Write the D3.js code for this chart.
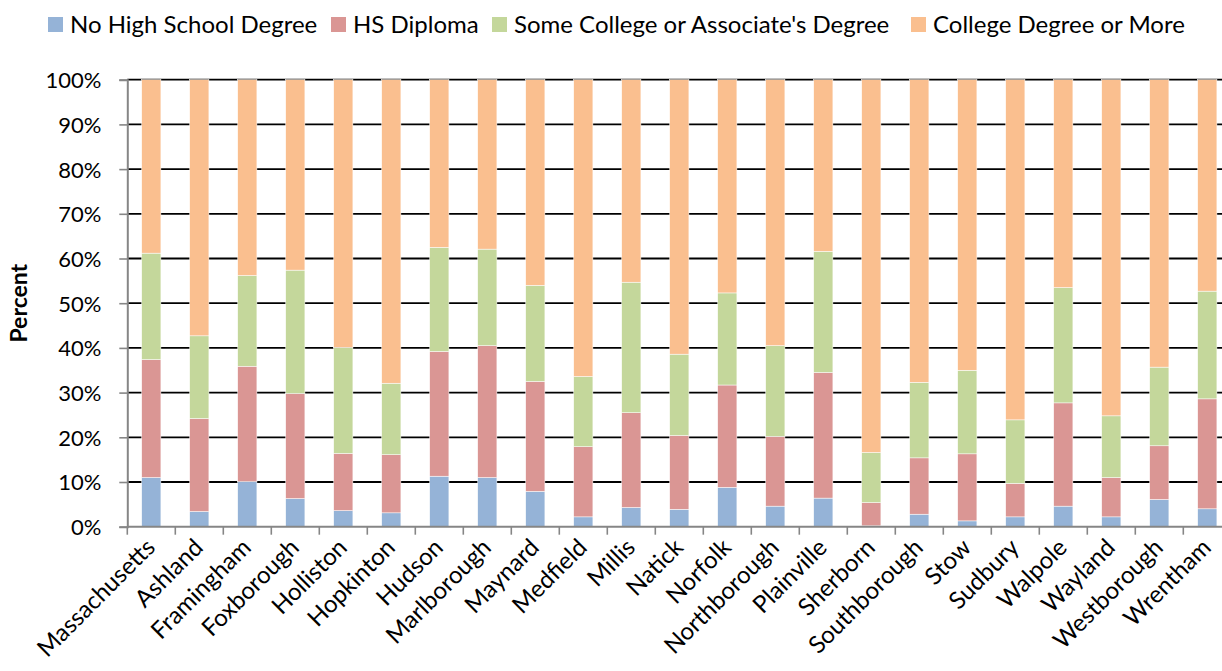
<!DOCTYPE html>
<html>
<head>
<meta charset="utf-8">
<script src="https://cdn.jsdelivr.net/npm/d3@7"></script>
<style>
  body { margin: 0; background: #fff; }
  text { font-family: Lato, "Open Sans", sans-serif; fill: #000; }
</style>
</head>
<body>
<div class="chart"></div>
<script>
//towns on the x axis
var towns = ["Massachusetts", "Ashland", "Framingham", "Foxborough", "Holliston", "Hopkinton",
  "Hudson", "Marlborough", "Maynard", "Medfield", "Millis", "Natick", "Norfolk", "Northborough",
  "Plainville", "Sherborn", "Southborough", "Stow", "Sudbury", "Walpole", "Wayland",
  "Westborough", "Wrentham"];

//series names for the legend
var seriesNames = ["No High School Degree", "HS Diploma", "Some College or Associate's Degree", "College Degree or More"];
var seriesColors = ["#95b3d7", "#da9694", "#c4d79b", "#fabf8f"];

//percent of each group per town
var noHighSchool = [11.0, 3.4, 10.1, 6.3, 3.6, 3.1, 11.3, 11.0, 7.9, 2.2, 4.3, 3.9, 8.8, 4.6, 6.4, 0.2, 2.8, 1.3, 2.2, 4.6, 2.2, 6.1, 4.0];
var hsDiploma = [26.4, 20.8, 25.8, 23.5, 12.8, 13.0, 27.9, 29.5, 24.6, 15.7, 21.2, 16.5, 22.9, 15.6, 28.1, 5.2, 12.6, 15.0, 7.5, 23.1, 8.8, 12.0, 24.6];
var someCollege = [23.8, 18.5, 20.3, 27.6, 23.7, 16.0, 23.3, 21.6, 21.5, 15.7, 29.2, 18.2, 20.6, 20.3, 27.1, 11.2, 16.9, 18.7, 14.2, 25.8, 13.8, 17.6, 24.1];
var collegeMore = [38.8, 57.3, 43.8, 42.6, 59.9, 67.9, 37.5, 37.9, 46.0, 66.4, 45.3, 61.4, 47.7, 59.5, 38.4, 83.4, 67.7, 65.0, 76.1, 46.5, 75.2, 64.3, 47.3];

//y axis ticks
var yTicks = [0, 10, 20, 30, 40, 50, 60, 70, 80, 90, 100];

const w = 1222;
const h = 671;
const plotLeft = 127.3;
const plotRight = 1231.3;
const plotTop = 79.7;
const plotBottom = 526.7;

//build rows for the stack
var rows = towns.map(function (t, i) {
  return { town: t, s0: noHighSchool[i], s1: hsDiploma[i], s2: someCollege[i], s3: collegeMore[i] };
});
var stack = d3.stack().keys(["s0", "s1", "s2", "s3"]);
var layers = stack(rows);

const xScale = d3.scaleBand()
  .domain(towns)
  .range([plotLeft, plotRight])
  .paddingInner(0.6)
  .paddingOuter(0.3);

const yScale = d3.scaleLinear()
  .domain([0, 100])
  .range([plotBottom, plotTop]);

const svg = d3.select(".chart")
  .append("svg")
  .attr("width", w)
  .attr("height", h);

//gridlines
svg.append("g")
  .selectAll("line")
  .data(yTicks.slice(1))
  .enter()
  .append("line")
  .attr("x1", plotLeft)
  .attr("x2", plotRight)
  .attr("y1", (d) => yScale(d))
  .attr("y2", (d) => yScale(d))
  .attr("stroke", "#000")
  .attr("stroke-width", 1.8);

//bars
svg.append("g")
  .selectAll("g")
  .data(layers)
  .enter()
  .append("g")
  .attr("fill", (d, i) => seriesColors[i])
  .selectAll("rect")
  .data((d) => d)
  .enter()
  .append("rect")
  .attr("x", (d) => xScale(d.data.town))
  .attr("width", xScale.bandwidth())
  .attr("y", (d) => yScale(d[1]))
  .attr("height", (d) => yScale(d[0]) - yScale(d[1]))
  .attr("stroke", "#fff")
  .attr("stroke-width", 0.5);

//y axis
const yAxis = d3.axisLeft(yScale)
  .tickValues(yTicks)
  .tickSize(8)
  .tickPadding(18)
  .tickFormat((d) => d + "%");
const gy = svg.append("g")
  .attr("transform", "translate(" + plotLeft + ",0)")
  .call(yAxis);
gy.select(".domain").attr("stroke", "#868686").attr("stroke-width", 2);
gy.selectAll(".tick line").attr("stroke", "#868686").attr("stroke-width", 1.6);
gy.selectAll(".tick text").style("font-size", "22px").style("font-family", "Lato").attr("dy", "0.36em");

//x axis line and ticks at category edges
svg.append("line")
  .attr("x1", plotLeft).attr("x2", plotRight)
  .attr("y1", plotBottom).attr("y2", plotBottom)
  .attr("stroke", "#868686").attr("stroke-width", 2);
svg.append("g")
  .selectAll("line")
  .data(towns)
  .enter()
  .append("line")
  .attr("x1", (d) => xScale(d) - xScale.step() * 0.3)
  .attr("x2", (d) => xScale(d) - xScale.step() * 0.3)
  .attr("y1", plotBottom)
  .attr("y2", plotBottom + 8)
  .attr("stroke", "#868686")
  .attr("stroke-width", 1.6);

//x labels rotated
svg.append("g")
  .selectAll("text")
  .data(towns)
  .enter()
  .append("text")
  .attr("text-anchor", "end")
  .attr("transform", (d) => "translate(" + (xScale(d) + xScale.bandwidth() / 2 - 7) + "," + (plotBottom + 10) + ") rotate(-45)")
  .attr("dy", "0.72em")
  .style("font-size", "24px")
  .text((d) => d);

//y axis title
svg.append("text")
  .attr("transform", "translate(27," + ((plotTop + plotBottom) / 2) + ") rotate(-90)")
  .attr("text-anchor", "middle")
  .style("font-size", "23px")
  .style("font-weight", "bold")
  .text("Percent");

//legend
var legendX = [48, 331, 492, 911];
var legend = svg.append("g")
  .selectAll("g")
  .data(seriesNames)
  .enter()
  .append("g")
  .attr("transform", (d, i) => "translate(" + legendX[i] + ",17)");
legend.append("rect")
  .attr("width", 15)
  .attr("height", 15)
  .attr("fill", (d, i) => seriesColors[i]);
legend.append("text")
  .attr("x", 22)
  .attr("y", 16)
  .style("font-size", "24px")
  .text((d) => d);
</script>
</body>
</html>
